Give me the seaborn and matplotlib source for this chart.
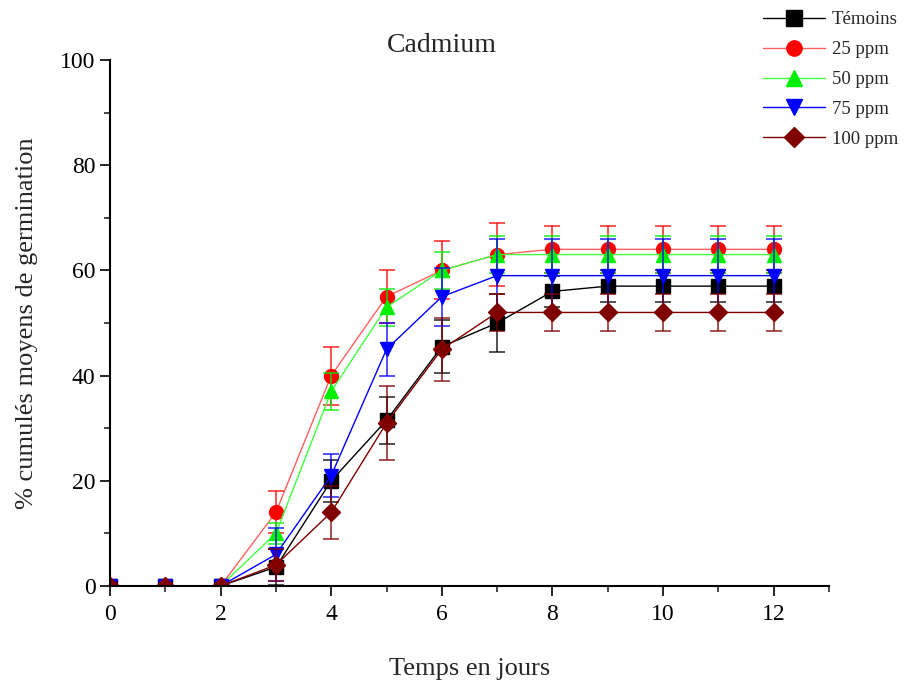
import numpy as np
import pandas as pd
import matplotlib
matplotlib.use("Agg")
import matplotlib.pyplot as plt
import seaborn as sns
from matplotlib.lines import Line2D
from matplotlib.ticker import MultipleLocator

jours = list(range(13))
temoins = [0, 0, 0, 3.6, 20, 31.5, 45.5, 50, 56, 57, 57, 57, 57]
ppm25 = [0, 0, 0, 14, 40, 55, 60, 63, 64, 64, 64, 64, 64]
ppm50 = [0, 0, 0, 10, 37, 53, 60, 63, 63, 63, 63, 63, 63]
ppm75 = [0, 0, 0, 6, 21, 45, 55, 59, 59, 59, 59, 59, 59]
ppm100 = [0, 0, 0, 4, 14, 31, 45, 52, 52, 52, 52, 52, 52]

err_temoins = [0, 0, 0, 3.5, 4, 4.5, 5, 5.5, 3, 3, 3, 3, 3]
err_25 = [0, 0, 0, 4, 5.5, 5, 5.5, 6, 4.5, 4.5, 4.5, 4.5, 4.5]
err_50 = [0, 0, 0, 2, 3.5, 3.5, 3.5, 3.5, 3.5, 3.5, 3.5, 3.5, 3.5]
err_75 = [0, 0, 0, 5, 4, 5, 5.5, 7, 7, 7, 7, 7, 7]
err_100 = [0, 0, 0, 3, 5, 7, 6, 3.5, 3.5, 3.5, 3.5, 3.5, 3.5]

noms = ["Témoins", "25 ppm", "50 ppm", "75 ppm", "100 ppm"]
series = [temoins, ppm25, ppm50, ppm75, ppm100]
erreurs = [err_temoins, err_25, err_50, err_75, err_100]
couleurs = ["black", "red", "#00ee00", "blue", "#800000"]
lignes = ["black", "#ff6060", "#40ff40", "blue", "#800000"]
marqueurs = ["s", "o", "^", "v", "D"]

rows = []
for nom, vals in zip(noms, series):
    for j, v in zip(jours, vals):
        rows.append({"Jour": j, "Valeur": v, "Traitement": nom})
df = pd.DataFrame(rows)

sns.set_theme(style="ticks")
plt.rcParams['font.family'] = ['Liberation Serif', 'DejaVu Serif']

fig = plt.figure(figsize=(9.09, 6.81), dpi=100)
ax = fig.add_axes([0.121, 0.1395, 0.791, 0.7725])

for nom, vals, err, c, lc, m in zip(noms, series, erreurs, couleurs, lignes, marqueurs):
    ax.errorbar(jours, vals, yerr=err, fmt="none", ecolor=c, elinewidth=1.2,
                capsize=6, capthick=1.2, alpha=0.8)
    sub = df[df["Traitement"] == nom]
    sns.lineplot(data=sub, x="Jour", y="Valeur", ax=ax, color=lc, linewidth=1.0,
                 legend=False)
    ax.plot(jours, vals, linestyle="none", marker=m, color=c, markersize=10 if m != "D" else 9,
            markeredgecolor=c)

ax.set_xlim(0, 13)
ax.set_ylim(0, 100)
ax.xaxis.set_major_locator(MultipleLocator(2))
ax.xaxis.set_minor_locator(MultipleLocator(1))
ax.yaxis.set_major_locator(MultipleLocator(20))
ax.yaxis.set_minor_locator(MultipleLocator(10))
ax.tick_params(which="major", direction="out", length=7, width=1.2, labelsize=17, colors="black")
ax.tick_params(axis="x", which="major", pad=6)
ax.tick_params(which="minor", direction="out", length=4, width=1.2)
for s in ["top", "right"]:
    ax.spines[s].set_visible(False)
for s in ["left", "bottom"]:
    ax.spines[s].set_linewidth(1.5)
    ax.spines[s].set_color("black")

ax.set_xlabel("Temps en jours", fontsize=19, labelpad=24)
ax.set_ylabel("% cumulés moyens de germination", fontsize=19, labelpad=16)
ax.text(6, 100.3, "Cadmium", fontsize=20, ha="center", va="bottom")

handles = [Line2D([0], [0], color=lc, marker=m, markerfacecolor=c, markeredgecolor=c,
                  markersize=11 if m != "D" else 10, linewidth=1.0)
           for c, lc, m in zip(couleurs, lignes, marqueurs)]
fig.legend(handles, noms, loc="upper right", bbox_to_anchor=(1.0, 1.0), frameon=False,
           fontsize=13.5, handlelength=3.3, handletextpad=0.35, labelspacing=0.68,
           borderaxespad=0.2)

fig.savefig("out.png", dpi=100)
